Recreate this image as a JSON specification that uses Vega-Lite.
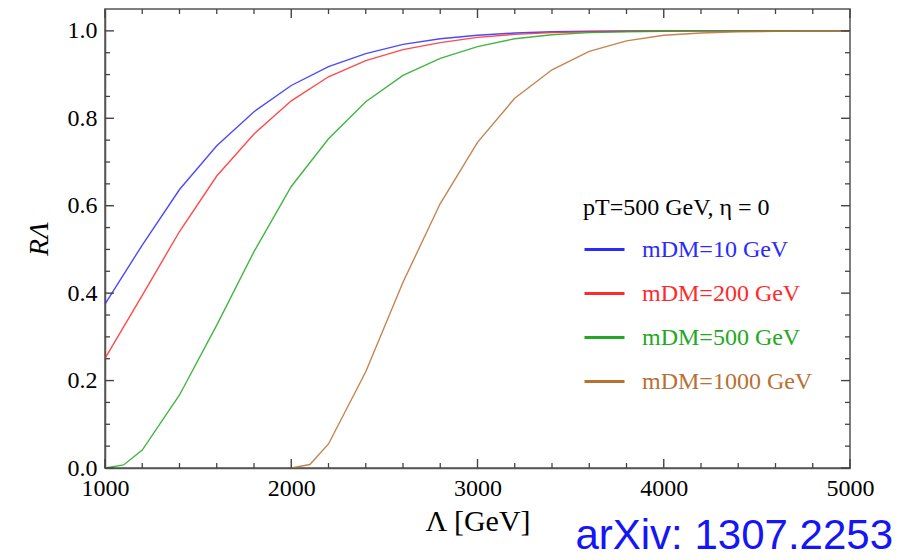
{
  "$schema": "https://vega.github.io/schema/vega-lite/v6.json",
  "width": 745,
  "height": 459,
  "autosize": {"type": "none"},
  "padding": {"left": 105, "top": 9, "right": 62, "bottom": 92},
  "background": "white",
  "config": {
    "view": {"stroke": "#555555", "strokeWidth": 1.5},
    "font": "Liberation Serif",
    "axis": {"grid": false, "ticks": false, "domainColor": "#555555", "domainWidth": 1.5, "labelFlush": false, "labelOverlap": false}
  },
  "title": {
    "text": "arXiv: 1307.2253",
    "orient": "bottom",
    "anchor": "end",
    "frame": "group",
    "font": "Liberation Sans",
    "fontSize": 42,
    "fontWeight": "normal",
    "color": "#1515f5",
    "dx": 43,
    "offset": -20
  },
  "datasets": {
    "xmaj": [{"v": 1000}, {"v": 2000}, {"v": 3000}, {"v": 4000}, {"v": 5000}],
    "xmin": [{"v": 1200}, {"v": 1400}, {"v": 1600}, {"v": 1800}, {"v": 2200}, {"v": 2400}, {"v": 2600}, {"v": 2800}, {"v": 3200}, {"v": 3400}, {"v": 3600}, {"v": 3800}, {"v": 4200}, {"v": 4400}, {"v": 4600}, {"v": 4800}],
    "ymaj": [{"v": 0}, {"v": 0.2}, {"v": 0.4}, {"v": 0.6}, {"v": 0.8}, {"v": 1.0}],
    "ymin": [{"v": 0.05}, {"v": 0.1}, {"v": 0.15}, {"v": 0.25}, {"v": 0.3}, {"v": 0.35}, {"v": 0.45}, {"v": 0.5}, {"v": 0.55}, {"v": 0.65}, {"v": 0.7}, {"v": 0.75}, {"v": 0.85}, {"v": 0.9}, {"v": 0.95}],
    "curves": [
      {"L": 1000, "R": 0.375, "series": "mDM=10 GeV"},
      {"L": 1200, "R": 0.51, "series": "mDM=10 GeV"},
      {"L": 1400, "R": 0.637, "series": "mDM=10 GeV"},
      {"L": 1600, "R": 0.737, "series": "mDM=10 GeV"},
      {"L": 1800, "R": 0.815, "series": "mDM=10 GeV"},
      {"L": 2000, "R": 0.875, "series": "mDM=10 GeV"},
      {"L": 2200, "R": 0.918, "series": "mDM=10 GeV"},
      {"L": 2400, "R": 0.948, "series": "mDM=10 GeV"},
      {"L": 2600, "R": 0.969, "series": "mDM=10 GeV"},
      {"L": 2800, "R": 0.982, "series": "mDM=10 GeV"},
      {"L": 3000, "R": 0.99, "series": "mDM=10 GeV"},
      {"L": 3200, "R": 0.995, "series": "mDM=10 GeV"},
      {"L": 3400, "R": 0.998, "series": "mDM=10 GeV"},
      {"L": 3600, "R": 0.999, "series": "mDM=10 GeV"},
      {"L": 3800, "R": 1.0, "series": "mDM=10 GeV"},
      {"L": 4000, "R": 1.0, "series": "mDM=10 GeV"},
      {"L": 4500, "R": 1.0, "series": "mDM=10 GeV"},
      {"L": 5000, "R": 1.0, "series": "mDM=10 GeV"},
      {"L": 1000, "R": 0.251, "series": "mDM=200 GeV"},
      {"L": 1200, "R": 0.395, "series": "mDM=200 GeV"},
      {"L": 1400, "R": 0.541, "series": "mDM=200 GeV"},
      {"L": 1600, "R": 0.668, "series": "mDM=200 GeV"},
      {"L": 1800, "R": 0.764, "series": "mDM=200 GeV"},
      {"L": 2000, "R": 0.84, "series": "mDM=200 GeV"},
      {"L": 2200, "R": 0.895, "series": "mDM=200 GeV"},
      {"L": 2400, "R": 0.932, "series": "mDM=200 GeV"},
      {"L": 2600, "R": 0.957, "series": "mDM=200 GeV"},
      {"L": 2800, "R": 0.973, "series": "mDM=200 GeV"},
      {"L": 3000, "R": 0.985, "series": "mDM=200 GeV"},
      {"L": 3200, "R": 0.992, "series": "mDM=200 GeV"},
      {"L": 3400, "R": 0.996, "series": "mDM=200 GeV"},
      {"L": 3600, "R": 0.998, "series": "mDM=200 GeV"},
      {"L": 3800, "R": 0.999, "series": "mDM=200 GeV"},
      {"L": 4000, "R": 1.0, "series": "mDM=200 GeV"},
      {"L": 4500, "R": 1.0, "series": "mDM=200 GeV"},
      {"L": 5000, "R": 1.0, "series": "mDM=200 GeV"},
      {"L": 1000, "R": 0.0, "series": "mDM=500 GeV"},
      {"L": 1100, "R": 0.007, "series": "mDM=500 GeV"},
      {"L": 1200, "R": 0.041, "series": "mDM=500 GeV"},
      {"L": 1400, "R": 0.167, "series": "mDM=500 GeV"},
      {"L": 1600, "R": 0.327, "series": "mDM=500 GeV"},
      {"L": 1800, "R": 0.495, "series": "mDM=500 GeV"},
      {"L": 2000, "R": 0.644, "series": "mDM=500 GeV"},
      {"L": 2200, "R": 0.753, "series": "mDM=500 GeV"},
      {"L": 2400, "R": 0.838, "series": "mDM=500 GeV"},
      {"L": 2600, "R": 0.898, "series": "mDM=500 GeV"},
      {"L": 2800, "R": 0.937, "series": "mDM=500 GeV"},
      {"L": 3000, "R": 0.964, "series": "mDM=500 GeV"},
      {"L": 3200, "R": 0.982, "series": "mDM=500 GeV"},
      {"L": 3400, "R": 0.991, "series": "mDM=500 GeV"},
      {"L": 3600, "R": 0.996, "series": "mDM=500 GeV"},
      {"L": 3800, "R": 0.998, "series": "mDM=500 GeV"},
      {"L": 4000, "R": 0.999, "series": "mDM=500 GeV"},
      {"L": 4200, "R": 1.0, "series": "mDM=500 GeV"},
      {"L": 4600, "R": 1.0, "series": "mDM=500 GeV"},
      {"L": 5000, "R": 1.0, "series": "mDM=500 GeV"},
      {"L": 2000, "R": 0.0, "series": "mDM=1000 GeV"},
      {"L": 2100, "R": 0.008, "series": "mDM=1000 GeV"},
      {"L": 2200, "R": 0.055, "series": "mDM=1000 GeV"},
      {"L": 2400, "R": 0.22, "series": "mDM=1000 GeV"},
      {"L": 2600, "R": 0.425, "series": "mDM=1000 GeV"},
      {"L": 2800, "R": 0.605, "series": "mDM=1000 GeV"},
      {"L": 3000, "R": 0.745, "series": "mDM=1000 GeV"},
      {"L": 3200, "R": 0.846, "series": "mDM=1000 GeV"},
      {"L": 3400, "R": 0.911, "series": "mDM=1000 GeV"},
      {"L": 3600, "R": 0.953, "series": "mDM=1000 GeV"},
      {"L": 3800, "R": 0.977, "series": "mDM=1000 GeV"},
      {"L": 4000, "R": 0.99, "series": "mDM=1000 GeV"},
      {"L": 4200, "R": 0.995, "series": "mDM=1000 GeV"},
      {"L": 4400, "R": 0.998, "series": "mDM=1000 GeV"},
      {"L": 4600, "R": 0.999, "series": "mDM=1000 GeV"},
      {"L": 4800, "R": 1.0, "series": "mDM=1000 GeV"},
      {"L": 5000, "R": 1.0, "series": "mDM=1000 GeV"}
    ]
  },
  "layer": [
    {
      "data": {"name": "curves"},
      "mark": {"type": "line", "strokeWidth": 1.4, "opacity": 0.85, "clip": true},
      "encoding": {
        "x": {
          "field": "L",
          "type": "quantitative",
          "scale": {"domain": [1000, 5000], "nice": false, "zero": false},
          "axis": {
            "orient": "bottom",
            "title": "Λ [GeV]",
            "titleFont": "Liberation Serif",
            "titleFontSize": 30,
            "titleFontWeight": "normal",
            "titleColor": "black",
            "titlePadding": 6,
            "values": [1000, 2000, 3000, 4000, 5000],
            "format": "d",
            "labelFont": "Liberation Serif",
            "labelFontSize": 24,
            "labelColor": "black",
            "labelPadding": 8
          }
        },
        "y": {
          "field": "R",
          "type": "quantitative",
          "scale": {"domain": [0, 1.05], "nice": false, "zero": false},
          "axis": {
            "orient": "left",
            "title": "RΛ",
            "titleFont": "Liberation Serif",
            "titleFontSize": 28,
            "titleFontStyle": "italic",
            "titleFontWeight": "normal",
            "titleColor": "black",
            "titlePadding": 14,
            "values": [0, 0.2, 0.4, 0.6, 0.8, 1.0],
            "format": ".1f",
            "labelFont": "Liberation Serif",
            "labelFontSize": 24,
            "labelColor": "black",
            "labelPadding": 8
          }
        },
        "color": {
          "field": "series",
          "type": "nominal",
          "scale": {
            "domain": ["mDM=10 GeV", "mDM=200 GeV", "mDM=500 GeV", "mDM=1000 GeV"],
            "range": ["#2a2aff", "#ff2a2a", "#22a822", "#b87033"]
          },
          "legend": {
            "orient": "none",
            "legendX": 478,
            "legendY": 187,
            "title": "pT=500 GeV, η = 0",
            "titleFont": "Liberation Serif",
            "titleFontSize": 24,
            "titleFontWeight": "normal",
            "titleColor": "black",
            "titlePadding": 8,
            "titleLimit": 400,
            "labelLimit": 400,
            "symbolType": "stroke",
            "symbolSize": 1600,
            "symbolStrokeWidth": 3,
            "symbolOpacity": 1,
            "labelFont": "Liberation Serif",
            "labelFontSize": 24,
            "labelOffset": 16,
            "rowPadding": 10,
            "padding": 0,
            "encode": {"labels": {"update": {"fill": {"scale": "color", "field": "value"}}}}
          }
        }
      }
    },
    {
      "data": {"name": "xmaj"},
      "mark": {"type": "rule", "color": "#444444", "strokeWidth": 1.4},
      "encoding": {
        "x": {"field": "v", "type": "quantitative", "axis": null},
        "y": {"datum": 0, "type": "quantitative", "axis": null},
        "y2": {"datum": 0.0206}
      }
    },
    {
      "data": {"name": "xmaj"},
      "mark": {"type": "rule", "color": "#444444", "strokeWidth": 1.4},
      "encoding": {
        "x": {"field": "v", "type": "quantitative", "axis": null},
        "y": {"datum": 1.05, "type": "quantitative", "axis": null},
        "y2": {"datum": 1.0294}
      }
    },
    {
      "data": {"name": "xmin"},
      "mark": {"type": "rule", "color": "#444444", "strokeWidth": 1.3},
      "encoding": {
        "x": {"field": "v", "type": "quantitative", "axis": null},
        "y": {"datum": 0, "type": "quantitative", "axis": null},
        "y2": {"datum": 0.0114}
      }
    },
    {
      "data": {"name": "xmin"},
      "mark": {"type": "rule", "color": "#444444", "strokeWidth": 1.3},
      "encoding": {
        "x": {"field": "v", "type": "quantitative", "axis": null},
        "y": {"datum": 1.05, "type": "quantitative", "axis": null},
        "y2": {"datum": 1.0386}
      }
    },
    {
      "data": {"name": "ymaj"},
      "mark": {"type": "rule", "color": "#444444", "strokeWidth": 1.4},
      "encoding": {
        "y": {"field": "v", "type": "quantitative", "axis": null},
        "x": {"datum": 1000, "type": "quantitative", "axis": null},
        "x2": {"datum": 1048}
      }
    },
    {
      "data": {"name": "ymaj"},
      "mark": {"type": "rule", "color": "#444444", "strokeWidth": 1.4},
      "encoding": {
        "y": {"field": "v", "type": "quantitative", "axis": null},
        "x": {"datum": 5000, "type": "quantitative", "axis": null},
        "x2": {"datum": 4952}
      }
    },
    {
      "data": {"name": "ymin"},
      "mark": {"type": "rule", "color": "#444444", "strokeWidth": 1.3},
      "encoding": {
        "y": {"field": "v", "type": "quantitative", "axis": null},
        "x": {"datum": 1000, "type": "quantitative", "axis": null},
        "x2": {"datum": 1027}
      }
    },
    {
      "data": {"name": "ymin"},
      "mark": {"type": "rule", "color": "#444444", "strokeWidth": 1.3},
      "encoding": {
        "y": {"field": "v", "type": "quantitative", "axis": null},
        "x": {"datum": 5000, "type": "quantitative", "axis": null},
        "x2": {"datum": 4973}
      }
    }
  ],
  "resolve": {"axis": {"x": "independent", "y": "independent"}}
}
